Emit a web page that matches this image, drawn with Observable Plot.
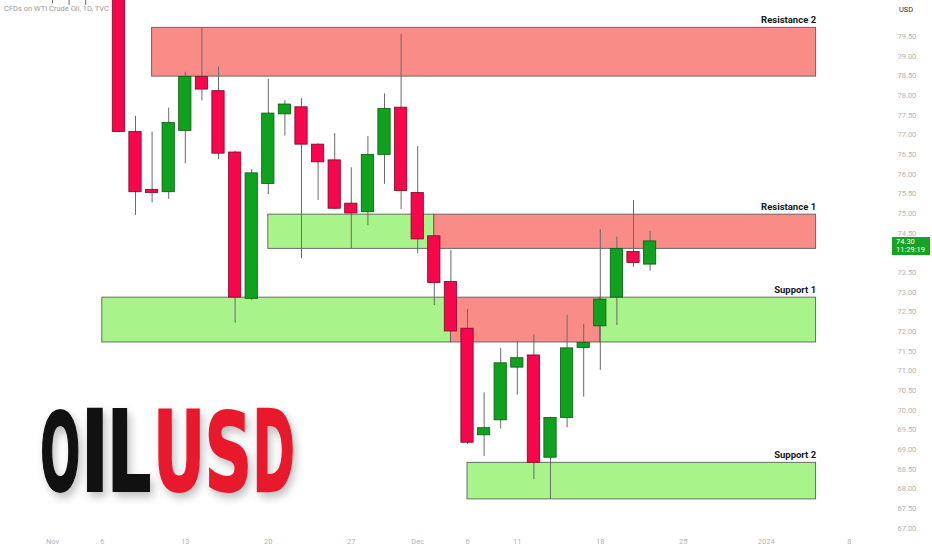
<!DOCTYPE html>
<html>
<head>
<meta charset="utf-8">
<script src="https://cdn.jsdelivr.net/npm/d3@7"></script>
<script src="https://cdn.jsdelivr.net/npm/@observablehq/plot@0.6"></script>
<style>
  html, body { margin: 0; padding: 0; background: #fff; }
  #wrap { position: relative; width: 932px; height: 550px; overflow: hidden; font-family: Roboto, "Liberation Sans", sans-serif; }
  .abs { position: absolute; white-space: nowrap; }
</style>
</head>
<body>
<div id="wrap"></div>
<script>
// ---- Data ----
const dates = ["2023-11-01","2023-11-02","2023-11-03","2023-11-06","2023-11-07","2023-11-08","2023-11-09","2023-11-10",
  "2023-11-13","2023-11-14","2023-11-15","2023-11-16","2023-11-17","2023-11-20","2023-11-21","2023-11-22","2023-11-23","2023-11-24",
  "2023-11-27","2023-11-28","2023-11-29","2023-11-30","2023-12-01","2023-12-04","2023-12-05","2023-12-06","2023-12-07","2023-12-08",
  "2023-12-11","2023-12-12","2023-12-13","2023-12-14","2023-12-15","2023-12-18","2023-12-19","2023-12-20","2023-12-21"];
const open  = [81.20,80.70,82.20,80.90,81.10,77.07,75.60,75.54,77.10,78.47,78.11,76.55,72.83,75.75,77.52,77.70,76.75,76.35,
  75.25,75.03,76.49,77.69,75.52,74.42,73.26,72.07,69.36,69.74,71.08,71.39,68.79,69.80,71.58,72.13,72.86,74.02,73.70];
const high  = [81.60,82.60,82.40,81.40,81.40,77.47,77.07,77.68,78.59,79.71,78.72,76.58,76.12,78.41,77.87,77.92,76.77,77.03,
  76.16,76.96,78.04,79.55,76.70,74.44,74.06,72.56,70.44,71.57,71.75,71.91,69.82,72.41,72.18,74.59,74.40,75.33,74.54];
const low   = [80.33,80.29,80.29,80.60,77.05,74.95,75.27,75.36,76.26,77.86,76.37,72.21,72.79,75.48,76.97,73.85,75.33,75.10,
  74.10,74.69,75.74,75.10,73.97,72.66,71.98,69.13,68.82,69.52,70.38,68.23,67.73,69.55,70.33,71.01,72.15,73.63,73.53];
const close = [80.60,82.30,80.80,81.20,77.07,75.54,75.52,77.30,78.47,78.15,76.52,72.86,76.02,77.54,77.77,76.75,76.30,75.12,
  75.00,76.49,77.66,75.57,74.34,73.23,72.00,69.17,69.54,71.19,71.32,68.66,69.80,71.57,71.71,72.81,74.10,73.74,74.29];

// x ticks (trading-day index) and their labels
const tickIdx    = [0, 3, 8, 13, 18, 22, 25, 28, 33, 38, 43, 48];
const tickLabels = ["Nov","6","13","20","27","Dec","6","11","18","25","2024","8"];

// price axis ticks (74.00 sits under the last-price tag)
const priceTicks = [67,67.5,68,68.5,69,69.5,70,70.5,71,71.5,72,72.5,73,73.5,74.5,75,75.5,76,76.5,77,77.5,78,78.5,79,79.5];

// zones
const zoneNames = ["Resistance 2","Resistance 1","Support 1","Support 2"];
const zoneLow   = [78.48, 74.10, 71.72, 67.73];
const zoneHigh  = [79.72, 74.97, 72.86, 68.66];
const zoneEnd   = [46, 46, 46, 46];
// zone segments: zone number, start index, end index, state
const segZone  = [0, 1, 1, 2, 2, 2, 3];
const segStart = [6, 13, 23, 3, 24, 33, 25];
const segEnd   = [46, 23, 46, 24, 33, 46, 46];
const segState = ["resistance","support","resistance","support","resistance","support","support"];

const lastPrice = 74.30, lastTime = "11:29:19";

// wordmark
const wordLetters = ["O","I","L","U","S","D"];
const wordColors  = ["#111111","#111111","#111111","#e8192c","#e8192c","#e8192c"];

// ---- Build tables ----
const candles = dates.map((d, i) => ({i, date: d, open: open[i], high: high[i], low: low[i], close: close[i]}));
const segments = segZone.map((z, k) => ({zone: z, start: segStart[k], end: segEnd[k], state: segState[k],
  lo: zoneLow[z], hi: zoneHigh[z]}));
const zones = zoneNames.map((n, k) => ({name: n, lo: zoneLow[k], hi: zoneHigh[k], end: zoneEnd[k]}));

const UP = "#0fa21f", DOWN = "#f7064c";
const ZONE_RES = "#f98c86", ZONE_SUP = "#a8f48b";

const chart = Plot.plot({
  width: 932, height: 550,
  marginLeft: 0, marginRight: 62, marginTop: 0, marginBottom: 17,
  style: {background: "#fff", fontFamily: "Roboto, 'Liberation Sans', sans-serif"},
  x: {domain: [-3.1325, 49.277], axis: null},
  y: {domain: [66.863, 80.415], axis: null},
  marks: [
    Plot.axisY({anchor: "right", ticks: priceTicks, tickFormat: d => d.toFixed(2),
      tickSize: 0, tickPadding: 27, fontSize: 7.5, fill: "#b4b4b4", textAnchor: "start"}),
    Plot.axisX({anchor: "bottom", ticks: tickIdx, tickFormat: (d) => tickLabels[tickIdx.indexOf(d)],
      tickSize: 0, tickPadding: 5, fontSize: 7.5, fill: "#b4b4b4"}),
    Plot.rect(segments, {x1: "start", x2: "end", y1: "lo", y2: "hi",
      fill: d => d.state === "resistance" ? ZONE_RES : ZONE_SUP, stroke: "#5e5e5e", strokeWidth: 0.9}),
    Plot.text(zones, {x: "end", y: "hi", text: "name", textAnchor: "end", dy: -8,
      fontWeight: "bold", fontSize: 9.5, fill: "#131722"}),
    Plot.ruleX(candles, {x: "i", y1: "low", y2: "high", stroke: "#6a6a6a", strokeWidth: 1, clip: true}),
    Plot.rect(candles, {x1: d => d.i - 0.37, x2: d => d.i + 0.37, y1: "open", y2: "close",
      fill: d => d.close >= d.open ? UP : DOWN,
      stroke: d => d.close >= d.open ? "#0b5a14" : "#7c0a2a", strokeWidth: 0.8, clip: true})
  ]
});

const wrap = document.getElementById("wrap");
wrap.appendChild(chart);

// big OILUSD wordmark: each letter fitted into its box (condensed heavy look)
const boxesX = [[41.7, 78.3], [86.7, 103.3], [112.3, 150], [158.3, 200], [208.3, 248.3], [256.7, 293.3]];
const wordTop = 407.3, wordBottom = 491.7;
const FONT = "'DejaVu Sans Condensed', 'DejaVu Sans', sans-serif";
const ctx = document.createElement("canvas").getContext("2d");
ctx.font = `bold 100px ${FONT}`;
const sw = 2;
const svgSel = d3.select(chart);
const g = svgSel.append("g").style("filter", "drop-shadow(3px 5px 4px rgba(0,0,0,0.25))");
wordLetters.forEach((ch, k) => {
  const m = ctx.measureText(ch);
  const L = m.actualBoundingBoxLeft, R = m.actualBoundingBoxRight;
  const A = m.actualBoundingBoxAscent, D = m.actualBoundingBoxDescent;
  const [x0, x1] = boxesX[k];
  const sx = (x1 - x0) / (L + R + sw);
  const sy = (wordBottom - wordTop) / (A + D + sw);
  const tx = x0 + (L + sw / 2) * sx;
  const ty = wordTop + (A + sw / 2) * sy;
  g.append("text")
    .attr("transform", `translate(${tx},${ty}) scale(${sx},${sy})`)
    .attr("text-anchor", "start")
    .attr("font-family", FONT).attr("font-weight", "bold").attr("font-size", 100)
    .attr("fill", wordColors[k]).attr("stroke", wordColors[k]).attr("stroke-width", sw)
    .attr("stroke-linejoin", "miter")
    .text(ch);
});

// header texts
const cap = document.createElement("div");
cap.className = "abs";
cap.style.cssText = "left:4px;top:4px;font-size:7.5px;color:#9a9a9a;";
cap.textContent = "CFDs on WTI Crude Oil, 1D, TVC";
wrap.appendChild(cap);

const usd = document.createElement("div");
usd.className = "abs";
usd.style.cssText = "left:899px;top:5px;font-size:7.5px;color:#333;";
usd.textContent = "USD";
wrap.appendChild(usd);

// last price tag
const yPix = chart.scale("y").apply(lastPrice);
const tag = document.createElement("div");
tag.className = "abs";
tag.style.cssText = `left:892px;top:${yPix - 4}px;width:38px;height:18px;background:#16a325;color:#fff;font-size:7.5px;line-height:8px;padding:1px 0 0 4px;box-sizing:border-box;`;
tag.innerHTML = `${lastPrice.toFixed(2)}<br>${lastTime}`;
wrap.appendChild(tag);
</script>
</body>
</html>
